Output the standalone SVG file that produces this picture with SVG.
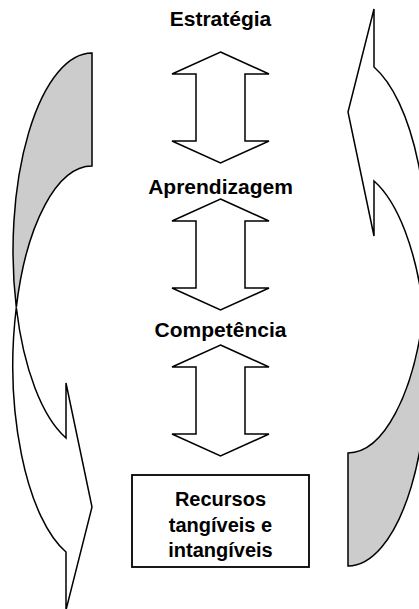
<svg xmlns="http://www.w3.org/2000/svg" width="419" height="609" viewBox="0 0 419 609">
<style>
.ln{stroke:#000;stroke-width:1.5;stroke-linejoin:miter;fill:#fff}
.gr{stroke:#000;stroke-width:1.5;fill:#cccccc}
.t{font-family:"Liberation Sans",Arial,sans-serif;font-weight:bold;font-size:20px;text-anchor:middle;fill:#000}
.h{font-size:21px}
</style>
<defs>
<g id="curved">
<path class="gr" d="M92,53 A79,198 0 0 0 16.3,307.5 A79,198 0 0 1 92,166 Z"/>
<path class="ln" d="M16.3,307.5 A79,198 0 0 0 66,552 L66,610 L92,507 L66,383 L66,438 A79,198 0 0 1 16.3,307.5 Z"/>
</g>
<polygon id="dbl" points="220.5,0 269,22 245,22 245,89 269,89 220.5,111 172,89 196,89 196,22 172,22"/>
</defs>
<g id="left-curved-arrow"><use href="#curved"/></g>
<g id="right-curved-arrow"><use href="#curved" transform="translate(440,619) rotate(180)"/></g>
<g id="connectors">
<use href="#dbl" class="ln" transform="translate(0,52)"/>
<use href="#dbl" class="ln" transform="translate(0,199)"/>
<use href="#dbl" class="ln" transform="translate(0,345)"/>
</g>
<g id="estrategia"><text class="t h" x="220.5" y="26">Estratégia</text></g>
<g id="aprendizagem"><text class="t h" x="220.5" y="194">Aprendizagem</text></g>
<g id="competencia"><text class="t h" x="220.5" y="337">Competência</text></g>
<g id="recursos">
<rect class="ln" x="132" y="475" width="177" height="92" style="stroke-width:1.8"/>
<text class="t" x="220.5" y="506">Recursos</text>
<text class="t" x="220.5" y="532">tangíveis e</text>
<text class="t" x="220.5" y="557">intangíveis</text>
</g>
</svg>
